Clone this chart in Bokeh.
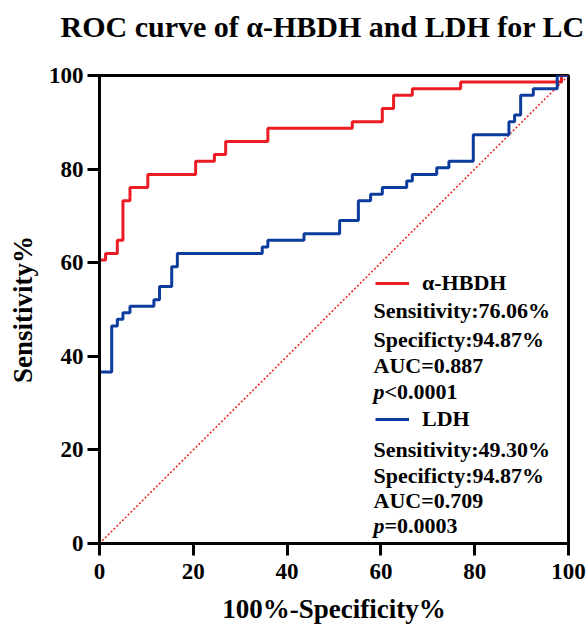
from bokeh.plotting import figure
from bokeh.models import Range1d, FixedTicker, Label, Legend, LegendItem, Title
from bokeh.embed import file_html
from bokeh.resources import INLINE

# ---- data ----
hbdh_fpr = [0, 0, 1.3, 3.8, 5.0, 6.5, 10.3, 20.5, 24.5, 26.9, 35.9, 53.9, 60.3, 62.7, 66.7, 77.0, 98.5, 100]
hbdh_tpr = [0, 60.56, 61.97, 64.79, 73.24, 76.06, 78.87, 81.69, 83.10, 85.92, 88.73, 90.14, 92.96, 95.77, 97.18, 98.59, 100, 100]

ldh_fpr = [0, 0, 2.6, 3.8, 5.0, 6.5, 11.6, 12.8, 15.4, 16.6, 34.7, 35.9, 43.6, 51.2, 55.2, 57.8, 60.3,
           65.5, 66.7, 71.9, 74.5, 79.7, 87.3, 88.5, 89.8, 92.5, 97.6, 100]
ldh_tpr = [0, 36.62, 46.48, 47.89, 49.30, 50.70, 52.11, 54.93, 59.15, 61.97, 63.38, 64.79, 66.20, 69.01,
           73.24, 74.65, 76.06, 77.46, 78.87, 80.28, 81.69, 87.32, 90.14, 91.55, 95.77, 97.18, 100, 100]

ref_x = [0, 100]
ref_y = [0, 100]

ticks = [0, 20, 40, 60, 80, 100]

title_text = "ROC curve of α-HBDH and LDH for LC"
x_label = "100%-Specificity%"
y_label = "Sensitivity%"

hbdh_name = "α-HBDH"
hbdh_stats = ["Sensitivity:76.06%", "Specificty:94.87%", "AUC=0.887"]
hbdh_p = "<0.0001"
ldh_name = "LDH"
ldh_stats = ["Sensitivity:49.30%", "Specificty:94.87%", "AUC=0.709"]
ldh_p = "=0.0003"

RED = "#ec1c24"
BLUE = "#0c3c9c"
FONT = "Liberation Serif"

W, H = 586, 626
FL, FR, FT, FB = 99, 568, 75, 544   # frame edges in page pixels

p = figure(width=W, height=H, output_backend="svg", toolbar_location=None,
           x_range=Range1d(0, 100), y_range=Range1d(0, 100), title=None,
           min_border_left=FL, min_border_right=W - FR, min_border_top=FT, min_border_bottom=H - FB)

# spacer (closest to the frame) then the real title above it
p.add_layout(Title(text=" ", text_font_size="10px", standoff=20), "above")
p.add_layout(Title(text=title_text, align="left", offset=-39, standoff=0,
                   text_font=FONT, text_font_style="bold", text_font_size="30px",
                   text_color="black"), "above")

p.grid.visible = False
p.outline_line_color = "black"
p.outline_line_width = 3
p.outline_line_alpha = 1

for ax in (p.xaxis[0], p.yaxis[0]):
    ax.ticker = FixedTicker(ticks=ticks)
    ax.axis_line_width = 3
    ax.axis_line_color = "black"
    ax.major_tick_line_width = 3
    ax.major_tick_line_color = "black"
    ax.major_tick_in = 0
    ax.major_tick_out = 12
    ax.minor_tick_line_color = None
    ax.major_label_text_font = FONT
    ax.major_label_text_font_style = "bold"
    ax.major_label_text_font_size = "23px"
    ax.major_label_text_color = "black"
    ax.axis_label_text_font = FONT
    ax.axis_label_text_font_style = "bold"
    ax.axis_label_text_font_size = "27px"
    ax.axis_label_text_color = "black"
p.xaxis[0].major_label_standoff = 8
p.yaxis[0].major_label_standoff = 4
p.xaxis[0].axis_label = x_label
p.yaxis[0].axis_label = y_label
p.xaxis[0].axis_label_standoff = 12
p.yaxis[0].axis_label_standoff = 8

p.line(ref_x, ref_y, line_color=RED, line_width=1.5, line_dash="2 2")
r_hbdh = p.step(hbdh_fpr, hbdh_tpr, mode="after", line_color=RED, line_width=3)
r_ldh = p.step(ldh_fpr, ldh_tpr, mode="after", line_color=BLUE, line_width=3)


def leg(name, r, cy):
    h = 24
    return Legend(items=[LegendItem(label=name, renderers=[r])],
                  location=(375 - FL, FB - (cy + h / 2)),
                  glyph_width=34, glyph_height=h, label_height=h, label_standoff=13,
                  padding=0, margin=0, spacing=0, border_line_color=None,
                  background_fill_alpha=0, label_text_font=FONT, label_text_color="black",
                  label_text_font_style="bold", label_text_font_size="22px")


p.add_layout(leg(hbdh_name, r_hbdh, 285))
p.add_layout(leg(ldh_name, r_ldh, 421))


def lab(text, x, y, style="bold"):
    p.add_layout(Label(x=x - FL, y=FB - y, x_units="screen", y_units="screen", text=text,
                       text_font=FONT, text_font_style=style, text_font_size="22px",
                       text_color="black", text_baseline="middle", text_align="left"))


for t, c in zip(hbdh_stats, [311, 340, 366]):
    lab(t, 373, c)
lab("p", 373, 392, style="bold italic")
lab(hbdh_p, 384, 392)

for t, c in zip(ldh_stats, [449.5, 476, 501]):
    lab(t, 373, c)
lab("p", 373, 526, style="bold italic")
lab(ldh_p, 384, 526)

open("out.html", "w").write(file_html(p, INLINE))
